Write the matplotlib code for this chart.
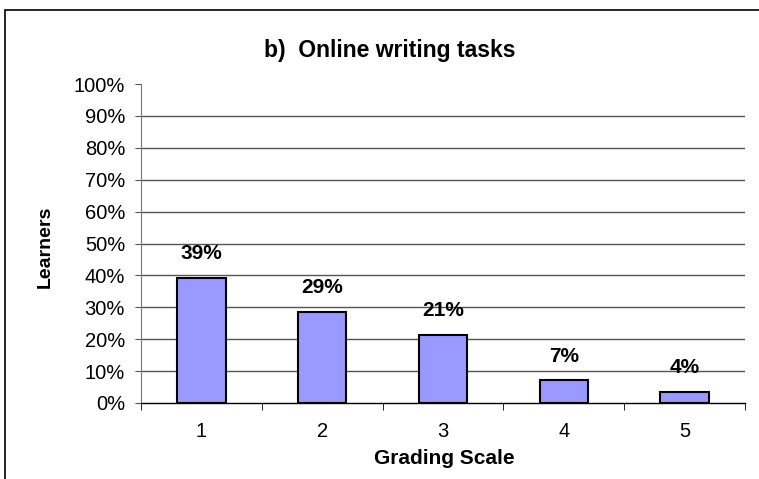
import matplotlib
matplotlib.use("Agg")
import matplotlib.pyplot as plt
from matplotlib.patches import Rectangle
from matplotlib.ticker import FuncFormatter

plt.rcParams['font.family'] = ['Liberation Sans', 'DejaVu Sans']

categories = ["1", "2", "3", "4", "5"]
values = [39.3, 28.6, 21.4, 7.1, 3.6]
labels = ["39%", "29%", "21%", "7%", "4%"]
yticks = [0, 10, 20, 30, 40, 50, 60, 70, 80, 90, 100]

W, H = 759, 479
fig = plt.figure(figsize=(W / 100, H / 100), dpi=100)
fig.patch.set_facecolor("white")

# outer border
fig.add_artist(Rectangle((5 / W, -0.01), 1.0, 1 - 10 / H + 0.01, transform=fig.transFigure,
                         fill=False, edgecolor="black", linewidth=1.2))

left, right, top, bottom = 141, 745, 84, 403
ax = fig.add_axes([left / W, 1 - bottom / H, (right - left) / W, (bottom - top) / H])

x = list(range(len(categories)))
ax.bar(x, values, width=0.4, color="#9999FF", edgecolor="black", linewidth=1.5, zorder=3)
for xi, v, lab in zip(x, values, labels):
    ax.annotate(lab, (xi, v), xytext=(0, 17.3), textcoords="offset points",
                ha="center", va="center", fontsize=15, fontweight="bold", zorder=4)

ax.set_xlim(-0.5, len(categories) - 0.5)
ax.set_ylim(0, 100)
ax.set_yticks(yticks)
ax.yaxis.set_major_formatter(FuncFormatter(lambda v, p: f"{int(v)}%"))
for yv in yticks[1:-1]:
    ax.axhline(yv, color="#555555", linewidth=1.0, zorder=1)

ax.set_xticks(x)
ax.set_xticklabels(categories)
ax.set_xticks([i - 0.5 for i in range(len(categories) + 1)], minor=True)
ax.tick_params(axis="x", which="major", length=0, pad=14, labelsize=14.5)
ax.tick_params(axis="x", which="minor", length=5, direction="out", color="black")
ax.tick_params(axis="y", length=4.5, direction="out", color="#555555", labelsize=14.5, pad=7)

for s in ["top", "right"]:
    ax.spines[s].set_visible(False)
ax.spines["left"].set_color("#777777")
ax.spines["bottom"].set_color("black")
ax.spines["bottom"].set_linewidth(1.0)

fig.text(390 / W, 1 - 50 / H, "b)  Online writing tasks", ha="center", va="center",
         fontsize=16.5, fontweight="bold")
fig.text(45 / W, 1 - 247 / H, "Learners", rotation=90, ha="center", va="center",
         fontsize=14, fontweight="bold")
fig.text(444 / W, 1 - 458 / H, "Grading Scale", ha="center", va="center",
         fontsize=15, fontweight="bold")

fig.savefig("out.png", dpi=100, facecolor="white")
